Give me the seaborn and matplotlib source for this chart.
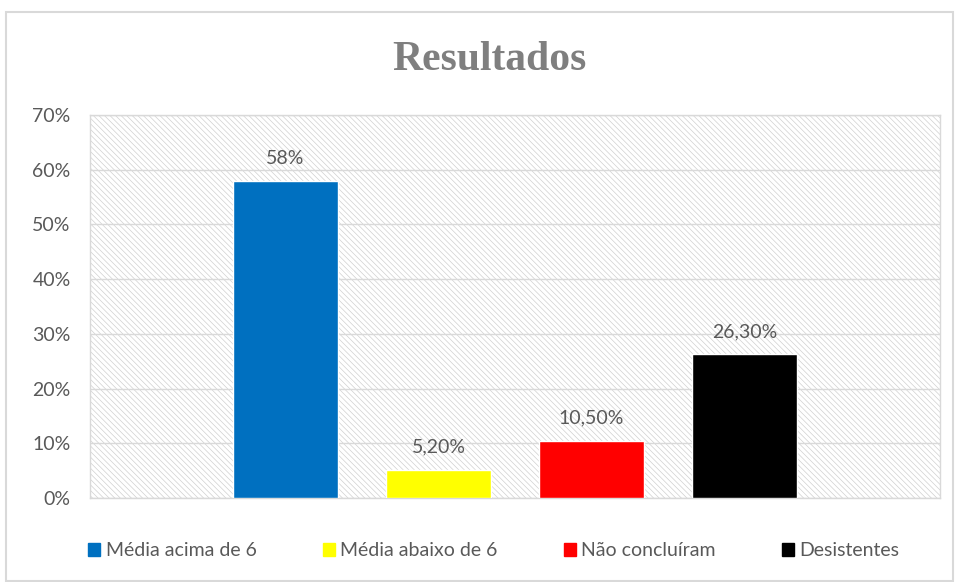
import seaborn as sns
import matplotlib.pyplot as plt
import pandas as pd
from matplotlib.patches import Rectangle

# dados
grupo = ['Resultados']
series = ['Média acima de 6', 'Média abaixo de 6', 'Não concluíram', 'Desistentes']
valores = [58.0, 5.2, 10.5, 26.3]
rotulos = ['58%', '5,20%', '10,50%', '26,30%']
cores = ['#0070c0', '#ffff00', '#ff0000', '#000000']
yticks = [0, 10, 20, 30, 40, 50, 60, 70]

data = pd.DataFrame({
    'Grupo': grupo * len(series),
    'Serie': series,
    'Valor': valores,
})

sns.set_theme(style="white")
plt.rcParams['font.family'] = ['Lato', 'DejaVu Sans']
plt.rcParams['hatch.linewidth'] = 0.5

fig = plt.figure(figsize=(9.56, 5.82), dpi=100)
ax = fig.add_axes([90 / 956, 1 - 498 / 582, 850 / 956, 383 / 582])

# fundo hachurado
ax.add_patch(Rectangle((0, 0), 1, 1, transform=ax.transAxes, facecolor='white',
                       edgecolor='#d0d0d0', hatch='\\\\\\\\\\\\', lw=0, zorder=0))

sns.barplot(data=data, x='Grupo', y='Valor', hue='Serie', hue_order=series,
            palette=cores, width=0.72, gap=0.31, saturation=1, legend=False,
            ax=ax, zorder=3)

for bar, txt in zip(ax.patches[1:], rotulos):
    ax.text(bar.get_x() + bar.get_width() / 2, bar.get_height() + 2.5, txt,
            ha='center', va='bottom', fontsize=14, color='#595959', zorder=4)

ax.set_xlim(-0.5, 0.5)
ax.set_ylim(0, 70)
ax.set_yticks(yticks)
ax.set_yticklabels([f'{v}%' for v in yticks])
ax.tick_params(axis='y', length=0, pad=14, labelsize=14, labelcolor='#595959')
ax.set_xticks([])
ax.set_xlabel('')
ax.set_ylabel('')
ax.grid(axis='y', color='#d9d9d9', lw=1, zorder=1)
ax.set_axisbelow(True)
for s in ax.spines.values():
    s.set_color('#d9d9d9')
    s.set_linewidth(1)

# legenda
handles = [Rectangle((0, 0), 1, 1, color=c) for c in cores]
fig.legend(handles, series, loc='center', bbox_to_anchor=(494 / 956, 1 - 551 / 582),
           ncol=4, frameon=False, fontsize=14, handlelength=0.6, handleheight=0.6,
           handletextpad=0.3, columnspacing=3.4, labelcolor='#595959')

fig.text(489 / 956, 1 - 60 / 582, 'Resultados', ha='center', va='center',
         fontsize=30, fontweight='bold', color='#7f7f7f',
         family=['Liberation Serif', 'DejaVu Serif'])

# moldura do gráfico
fig.patches.append(Rectangle((6 / 956, 1 / 582), 947 / 956, 569 / 582,
                             transform=fig.transFigure, fill=False,
                             edgecolor='#d9d9d9', lw=1.5))

fig.savefig('out.png', dpi=100)
